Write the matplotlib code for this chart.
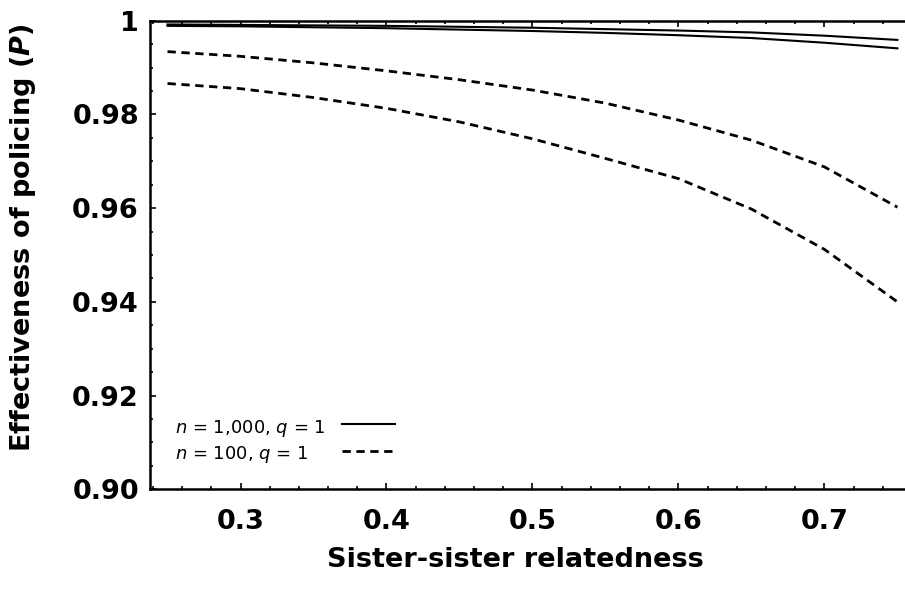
import numpy as np
import matplotlib
matplotlib.use("Agg")
from matplotlib import pyplot as plt
from matplotlib.ticker import MultipleLocator

plt.rcParams["font.family"] = ["DejaVu Sans"]
plt.rcParams["mathtext.fontset"] = "dejavusans"
plt.rcParams["lines.scale_dashes"] = False

# relatedness values
relatedness = [0.25, 0.30, 0.35, 0.40, 0.45, 0.50, 0.55, 0.60, 0.65, 0.70, 0.75]

# n = 1,000, q = 1 (two solid curves)
p_1000_hi = [0.9992, 0.9991, 0.9990, 0.9989, 0.9987, 0.9985, 0.9982, 0.9979, 0.9975, 0.9968, 0.9959]
p_1000_lo = [0.9989, 0.9988, 0.9986, 0.9984, 0.9981, 0.9978, 0.9974, 0.9969, 0.9963, 0.9953, 0.9941]

# n = 100, q = 1 (two dashed curves)
p_100_hi = [0.9934, 0.9924, 0.9910, 0.9893, 0.9874, 0.9852, 0.9824, 0.9788, 0.9745, 0.9688, 0.9602]
p_100_lo = [0.9866, 0.9855, 0.9836, 0.9813, 0.9784, 0.9748, 0.9706, 0.9663, 0.9598, 0.9512, 0.9400]

legend_labels = [r"$n$ = 1,000, $q$ = 1", r"$n$ = 100, $q$ = 1"]

xticks = [0.3, 0.4, 0.5, 0.6, 0.7]
xtick_labels = ["0.3", "0.4", "0.5", "0.6", "0.7"]
yticks = [0.90, 0.92, 0.94, 0.96, 0.98, 1.0]
ytick_labels = ["0.90", "0.92", "0.94", "0.96", "0.98", "1"]

fig = plt.figure(figsize=(9.05, 5.97), dpi=100)
ax = fig.add_axes([150 / 905, 107.7 / 597, 762 / 905, 468.6 / 597])

dash = (0, (6.0, 4.0))
l1, = ax.plot(relatedness, p_1000_hi, color="black", lw=1.5)
ax.plot(relatedness, p_1000_lo, color="black", lw=1.5)
l2, = ax.plot(relatedness, p_100_hi, color="black", lw=2.0, linestyle=dash)
ax.plot(relatedness, p_100_lo, color="black", lw=2.0, linestyle=dash)

ax.set_xlim(0.238, 0.76)
ax.set_ylim(0.90, 1.0)

ax.set_xticks(xticks)
ax.set_xticklabels(xtick_labels, fontsize=19.5, fontweight="bold")
ax.set_yticks(yticks)
ax.set_yticklabels(ytick_labels, fontsize=19.5, fontweight="bold")
ax.xaxis.set_minor_locator(MultipleLocator(0.02))
ax.yaxis.set_minor_locator(MultipleLocator(0.005))
ax.tick_params(which="both", direction="in", top=True, right=False, width=1.2)
ax.tick_params(which="major", length=4.5)
ax.tick_params(which="minor", length=2.5)
ax.tick_params(axis="x", which="major", pad=14)
ax.tick_params(axis="y", which="major", pad=8)

for side in ["left", "bottom", "top"]:
    ax.spines[side].set_linewidth(1.8)
ax.spines["right"].set_visible(False)

ax.set_xlabel("Sister-sister relatedness", fontsize=19.5, fontweight="bold")
ax.xaxis.set_label_coords(0.480, -0.123)
ax.set_ylabel(r"Effectiveness of policing ($\mathbfit{P}$)", fontsize=19.5, fontweight="bold")
ax.yaxis.set_label_coords(-0.147, 0.537)

# legend: labels left-aligned, sample lines in a column to the right
ax.legend([l1, l2], ["", ""], loc="center left", bbox_to_anchor=(0.252, 0.1084),
          frameon=False, fontsize=13, handlelength=2.93, handletextpad=0,
          labelspacing=0.50, borderpad=0, borderaxespad=0)
ax.text(0.0328, 0.1199, legend_labels[0], transform=ax.transAxes, fontsize=13, va="baseline")
ax.text(0.0328, 0.0644, legend_labels[1], transform=ax.transAxes, fontsize=13, va="baseline")

fig.savefig("out.png", dpi=100)
